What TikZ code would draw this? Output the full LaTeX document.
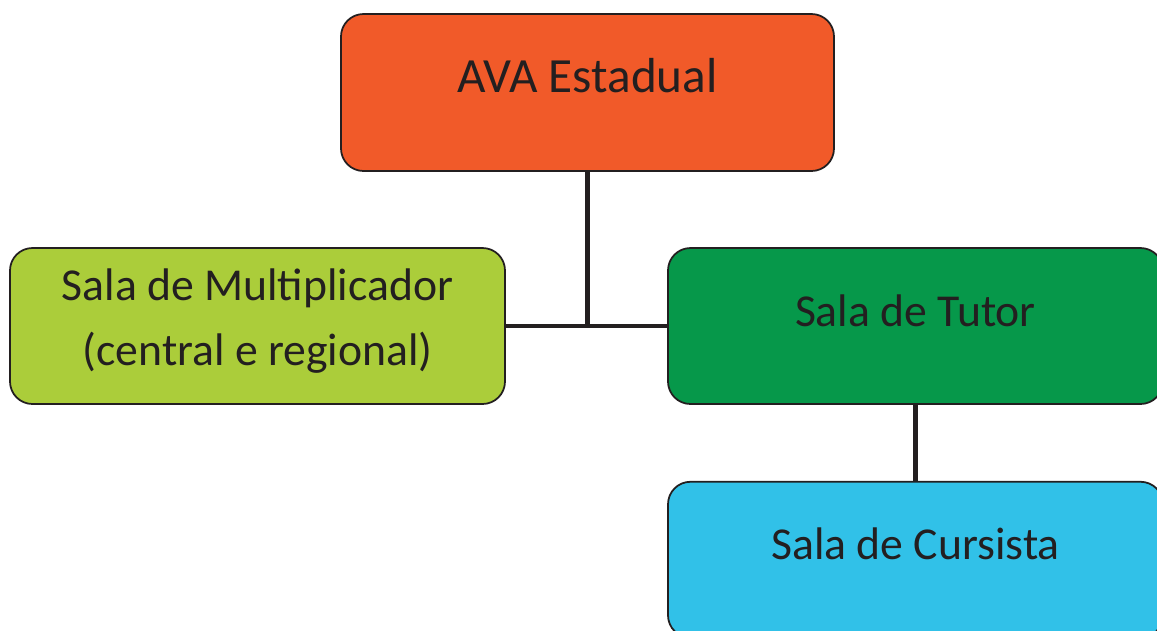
\documentclass[tikz,border=0pt]{standalone}
\usepackage{fontspec}
\setmainfont{Carlito}
\usetikzlibrary{positioning}

\definecolor{avaorange}{HTML}{F15A29}
\definecolor{multgreen}{HTML}{ABCD3A}
\definecolor{tutorgreen}{HTML}{06984A}
\definecolor{cursblue}{HTML}{31C1E8}
\definecolor{inkdark}{HTML}{231F20}

\begin{document}
\begin{tikzpicture}[
			sala/.style={draw=inkdark,line width=1pt,rounded corners=0.45cm,
				minimum width=9.9cm,minimum height=3.12cm,align=center,
				text=inkdark,font=\fontsize{26}{37}\selectfont},
			oneline/.style={text height=0.7cm,text depth=0.7cm},
			link/.style={draw=inkdark,line width=2.8pt}
		]
		\clip (0,0) rectangle (23.14,-12.6);
		\node[sala,oneline,fill=avaorange,minimum width=9.86cm,minimum height=3.14cm,
			font=\fontsize{28}{35}\selectfont] (ava) at (11.75,-1.85) {AVA Estadual};
		\node[sala,fill=multgreen] (mult) at (5.15,-6.52) {Sala de Multiplicador\\(central e regional)\rule[-0.36cm]{0pt}{0pt}};
		\node[sala,oneline,fill=tutorgreen] (tutor) at (18.31,-6.52) {Sala de Tutor};
		\node[sala,oneline,fill=cursblue,below=1.52cm of tutor] (curs) {Sala de Cursista};
		\draw[link] (ava.south) -- (ava.south |- mult.east);
		\draw[link] (mult.east) -- (tutor.west);
		\draw[link] (tutor.south) -- (curs.north);
	\end{tikzpicture}
\end{document}
